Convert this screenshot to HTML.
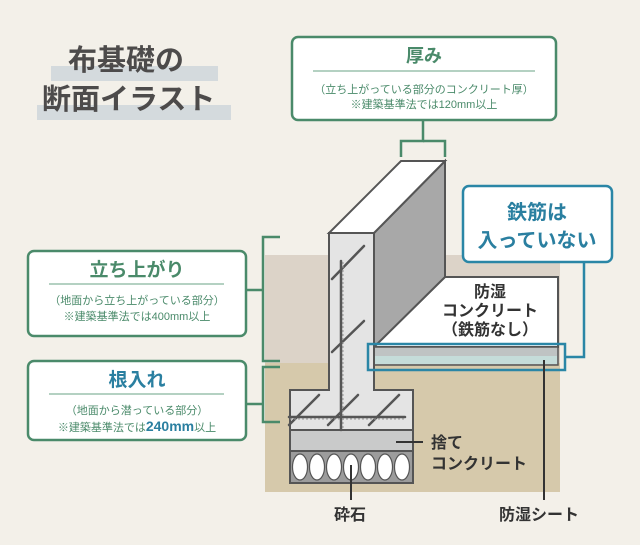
<!DOCTYPE html>
<html><head><meta charset="utf-8"><style>
html,body{margin:0;padding:0;background:#f3f0e9;}
svg{display:block;font-family:"Liberation Sans","Noto Sans CJK JP",sans-serif;}
</style></head><body>
<svg width="640" height="545" viewBox="0 0 640 545" xmlns="http://www.w3.org/2000/svg">
<rect width="640" height="545" fill="#f3f0e9"/>
<!-- title -->
<rect x="51" y="66" width="167" height="15" fill="#d4dadd"/>
<rect x="37" y="105" width="194" height="15" fill="#d4dadd"/>
<text x="68" y="70" font-size="29" font-weight="bold" fill="#4d4b4b">布基礎の</text>
<text x="42" y="109" font-size="29" font-weight="bold" fill="#4d4b4b">断面イラスト</text>
<!-- ground -->
<rect x="265" y="255" width="295" height="108" fill="#dcd3c8"/>
<rect x="265" y="363" width="295" height="129" fill="#d6c9ab"/>
<!-- slab -->
<polygon points="445,277 558,277 558,347 374,347" fill="#fff" stroke="#555" stroke-width="2"/>
<rect x="374" y="347" width="184" height="18" fill="#bfc3c3" stroke="#555" stroke-width="1.5"/>
<rect x="375" y="356" width="182" height="8" fill="#c5dcd9"/>
<!-- wall side -->
<polygon points="374,233 445,161 445,277 374,347" fill="#a8a8a8" stroke="#555" stroke-width="2"/>
<polygon points="329,233 374,233 445,161 401,161" fill="#fff" stroke="#555" stroke-width="2"/>
<polygon points="329,233 374,233 374,390 413,390 413,430 290,430 290,390 329,390" fill="#e4e4e4" stroke="#555" stroke-width="2"/>
<rect x="290" y="430" width="123" height="21" fill="#c9caca" stroke="#555" stroke-width="2"/>
<rect x="290" y="451" width="123" height="32" fill="#9c9c9c" stroke="#555" stroke-width="2"/>
<g fill="#fff" stroke="#555" stroke-width="1.2">
<ellipse cx="300" cy="467" rx="7.5" ry="13"/><ellipse cx="317" cy="467" rx="7.5" ry="13"/><ellipse cx="334" cy="467" rx="7.5" ry="13"/><ellipse cx="351" cy="467" rx="7.5" ry="13"/><ellipse cx="368" cy="467" rx="7.5" ry="13"/><ellipse cx="385" cy="467" rx="7.5" ry="13"/><ellipse cx="402" cy="467" rx="7.5" ry="13"/>
</g>
<!-- rebar -->
<g stroke="#555" stroke-width="2.5" stroke-linecap="round">
<line x1="341" y1="261" x2="341" y2="430"/>
<line x1="289" y1="417" x2="405" y2="417"/>
<line x1="332" y1="279" x2="364" y2="246"/>
<line x1="332" y1="352" x2="364" y2="321"/>
<line x1="289" y1="425" x2="319" y2="395"/>
<line x1="328" y1="425" x2="358" y2="395"/>
<line x1="369" y1="425" x2="399" y2="395"/>
</g>
<g stroke="#999" stroke-width="1" stroke-dasharray="2 2"><line x1="343" y1="262" x2="343" y2="428"/><line x1="290" y1="419" x2="404" y2="419"/></g>
<!-- slab text -->
<g font-size="16" fill="#333" text-anchor="middle" font-weight="bold">
<text x="490" y="297">防湿</text>
<text x="490" y="316">コンクリート</text>
<text x="490" y="335">（鉄筋なし）</text>
</g>
<!-- blue box + connector -->
<rect x="368" y="344" width="197" height="26" fill="none" stroke="#2a86a6" stroke-width="2.5"/>
<polyline points="565,357 584,357 584,262" fill="none" stroke="#2a86a6" stroke-width="2.5"/>
<rect x="463" y="186" width="149" height="76" rx="6" fill="#fff" stroke="#2a86a6" stroke-width="2.5"/>
<g font-size="20" font-weight="bold" fill="#2a7fa0" text-anchor="middle">
<text x="537" y="219">鉄筋は</text>
<text x="537" y="247">入っていない</text>
</g>
<!-- leaders -->
<g stroke="#333" stroke-width="2">
<line x1="544" y1="360" x2="544" y2="500"/>
<line x1="351" y1="465" x2="351" y2="500"/>
<line x1="396" y1="442" x2="423" y2="442"/>
</g>
<g font-size="16" fill="#333" font-weight="bold">
<text x="431" y="448">捨て</text>
<text x="431" y="469">コンクリート</text>
<text x="334" y="520">砕石</text>
<text x="499" y="520">防湿シート</text>
</g>
<!-- 厚み box -->
<rect x="292" y="37" width="264" height="83" rx="6" fill="#fff" stroke="#4a8a6a" stroke-width="2.5"/>
<text x="424" y="62" font-size="18" font-weight="bold" fill="#4a8a6a" text-anchor="middle">厚み</text>
<line x1="313" y1="71" x2="535" y2="71" stroke="#9cc2ad" stroke-width="1.5"/>
<g font-size="11" fill="#4a8a6a" text-anchor="middle"><text x="424" y="93">（立ち上がっている部分のコンクリート厚）</text><text x="424" y="108">※建築基準法では120mm以上</text></g>
<polyline points="423,120 423,141 401,141 401,157" fill="none" stroke="#4a8a6a" stroke-width="2.5"/>
<polyline points="423,141 445,141 445,157" fill="none" stroke="#4a8a6a" stroke-width="2.5"/>
<!-- 立ち上がり -->
<rect x="28" y="251" width="218" height="85" rx="6" fill="#fff" stroke="#4a8a6a" stroke-width="2.5"/>
<text x="137" y="276" font-size="19" font-weight="bold" fill="#4a8a6a" text-anchor="middle">立ち上がり</text>
<line x1="49" y1="284" x2="224" y2="284" stroke="#9cc2ad" stroke-width="1.5"/>
<g font-size="11" fill="#4a8a6a" text-anchor="middle"><text x="137" y="304">（地面から立ち上がっている部分）</text><text x="137" y="320">※建築基準法では400mm以上</text></g>
<polyline points="280,237 263,237 263,361 280,361" fill="none" stroke="#4a8a6a" stroke-width="2.5"/>
<line x1="246" y1="290" x2="263" y2="290" stroke="#4a8a6a" stroke-width="2.5"/>
<!-- 根入れ -->
<rect x="28" y="361" width="218" height="79" rx="6" fill="#fff" stroke="#4a8a6a" stroke-width="2.5"/>
<text x="137" y="386" font-size="19" font-weight="bold" fill="#2a7fa0" text-anchor="middle">根入れ</text>
<line x1="49" y1="394" x2="224" y2="394" stroke="#9cc2ad" stroke-width="1.5"/>
<g font-size="11" fill="#4a8a6a" text-anchor="middle"><text x="137" y="414">（地面から潜っている部分）</text><text x="137" y="431">※建築基準法では<tspan font-size="14" font-weight="bold" fill="#2a7fa0">240mm</tspan>以上</text></g>
<polyline points="280,367 263,367 263,422 280,422" fill="none" stroke="#4a8a6a" stroke-width="2.5"/>
<line x1="246" y1="404" x2="263" y2="404" stroke="#4a8a6a" stroke-width="2.5"/>
</svg>
</body></html>
